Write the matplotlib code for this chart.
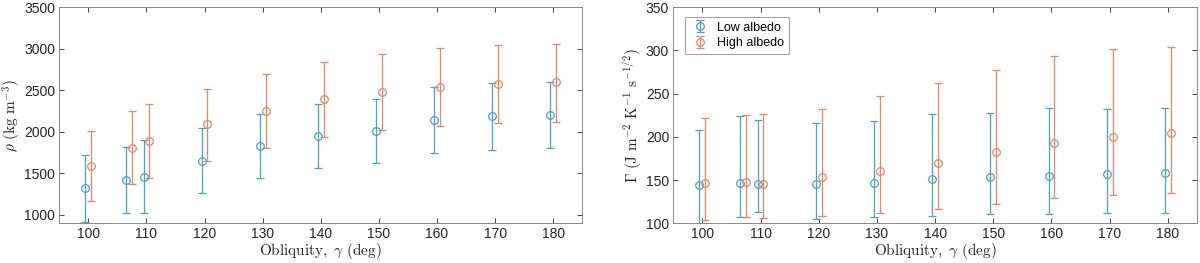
import matplotlib
matplotlib.use("Agg")
import matplotlib.pyplot as plt
import numpy as np

plt.rcParams['font.family'] = ['Liberation Sans', 'DejaVu Sans']
plt.rcParams['mathtext.fontset'] = 'cm'

obliquity = [100, 107, 110, 120, 130, 140, 150, 160, 170, 180]
offset = 0.5

# Density (kg m^-3)
rho_low = [1320, 1420, 1460, 1650, 1830, 1950, 2010, 2140, 2185, 2200]
rho_low_lo = [920, 1020, 1020, 1265, 1440, 1560, 1620, 1745, 1785, 1800]
rho_low_hi = [1720, 1820, 1900, 2040, 2220, 2340, 2400, 2535, 2585, 2600]
rho_high = [1590, 1810, 1890, 2090, 2250, 2390, 2480, 2540, 2580, 2595]
rho_high_lo = [1170, 1370, 1450, 1655, 1810, 1940, 2020, 2070, 2105, 2120]
rho_high_hi = [2005, 2250, 2330, 2520, 2690, 2835, 2940, 3010, 3050, 3060]

# Thermal inertia
gam_low = [144, 147, 145, 146, 147, 151, 153, 155, 157, 158]
gam_low_lo = [80, 107, 113, 105, 107, 109, 111, 111, 112, 112]
gam_low_hi = [208, 224, 219, 216, 218, 226, 227, 233, 232, 233]
gam_high = [147, 148, 146, 154, 161, 170, 182, 193, 200, 204]
gam_high_lo = [104, 107, 106, 109, 112, 116, 122, 129, 133, 135]
gam_high_hi = [222, 225, 226, 232, 247, 262, 277, 293, 301, 304]

blue = '#4A9FDA'
orange = '#EC8560'

fig = plt.figure(figsize=(12, 2.63), dpi=100)
ax1 = fig.add_axes([0.0494, 0.151, 0.4358, 0.822])
ax2 = fig.add_axes([0.5611, 0.151, 0.4363, 0.822])

def draw(ax, low, lo_l, hi_l, high, lo_h, hi_h):
    x = np.array(obliquity, dtype=float)
    low = np.array(low); high = np.array(high)
    ax.errorbar(x - offset, low, yerr=[low - np.array(lo_l), np.array(hi_l) - low],
                fmt='o', color=blue, mfc='none', ms=5.5, mew=0.9, elinewidth=0.9,
                capsize=2.8, capthick=0.9, label='Low albedo')
    ax.errorbar(x + offset, high, yerr=[high - np.array(lo_h), np.array(hi_h) - high],
                fmt='o', color=orange, mfc='none', ms=5.5, mew=0.9, elinewidth=0.9,
                capsize=2.8, capthick=0.9, label='High albedo')
    ax.set_xlim(95, 185)
    ax.set_xticks(range(100, 181, 10))
    ax.tick_params(direction='in', top=True, right=True, labelsize=10,
                   colors='#262626', length=3.5, width=0.6, pad=3)
    for s in ax.spines.values():
        s.set_color('#888888')
        s.set_linewidth(0.7)
    ax.set_xlabel(r'$\mathrm{Obliquity,}\ \gamma\ \mathrm{(deg)}$', fontsize=11,
                  color='#262626', labelpad=0)

draw(ax1, rho_low, rho_low_lo, rho_low_hi, rho_high, rho_high_lo, rho_high_hi)
ax1.set_ylim(900, 3500)
ax1.set_yticks(range(1000, 3501, 500))
ax1.set_ylabel(r'$\rho\ (\mathrm{kg\ m^{-3}})$', fontsize=11, color='#262626', labelpad=1)

draw(ax2, gam_low, gam_low_lo, gam_low_hi, gam_high, gam_high_lo, gam_high_hi)
ax2.set_ylim(100, 350)
ax2.set_yticks(range(100, 351, 50))
ax2.set_ylabel(r'$\Gamma\ (\mathrm{J\ m^{-2}\ K^{-1}\ s^{-1/2}})$', fontsize=11,
               color='#262626', labelpad=1)
leg = ax2.legend(loc='upper left', fontsize=9, frameon=True, fancybox=False,
                 edgecolor='#888888', borderpad=0.4, handletextpad=0.6,
                 handlelength=1.6, labelspacing=0.3, bbox_to_anchor=(0.01, 0.985))
leg.get_frame().set_linewidth(0.7)

fig.savefig('out.png', dpi=100)
